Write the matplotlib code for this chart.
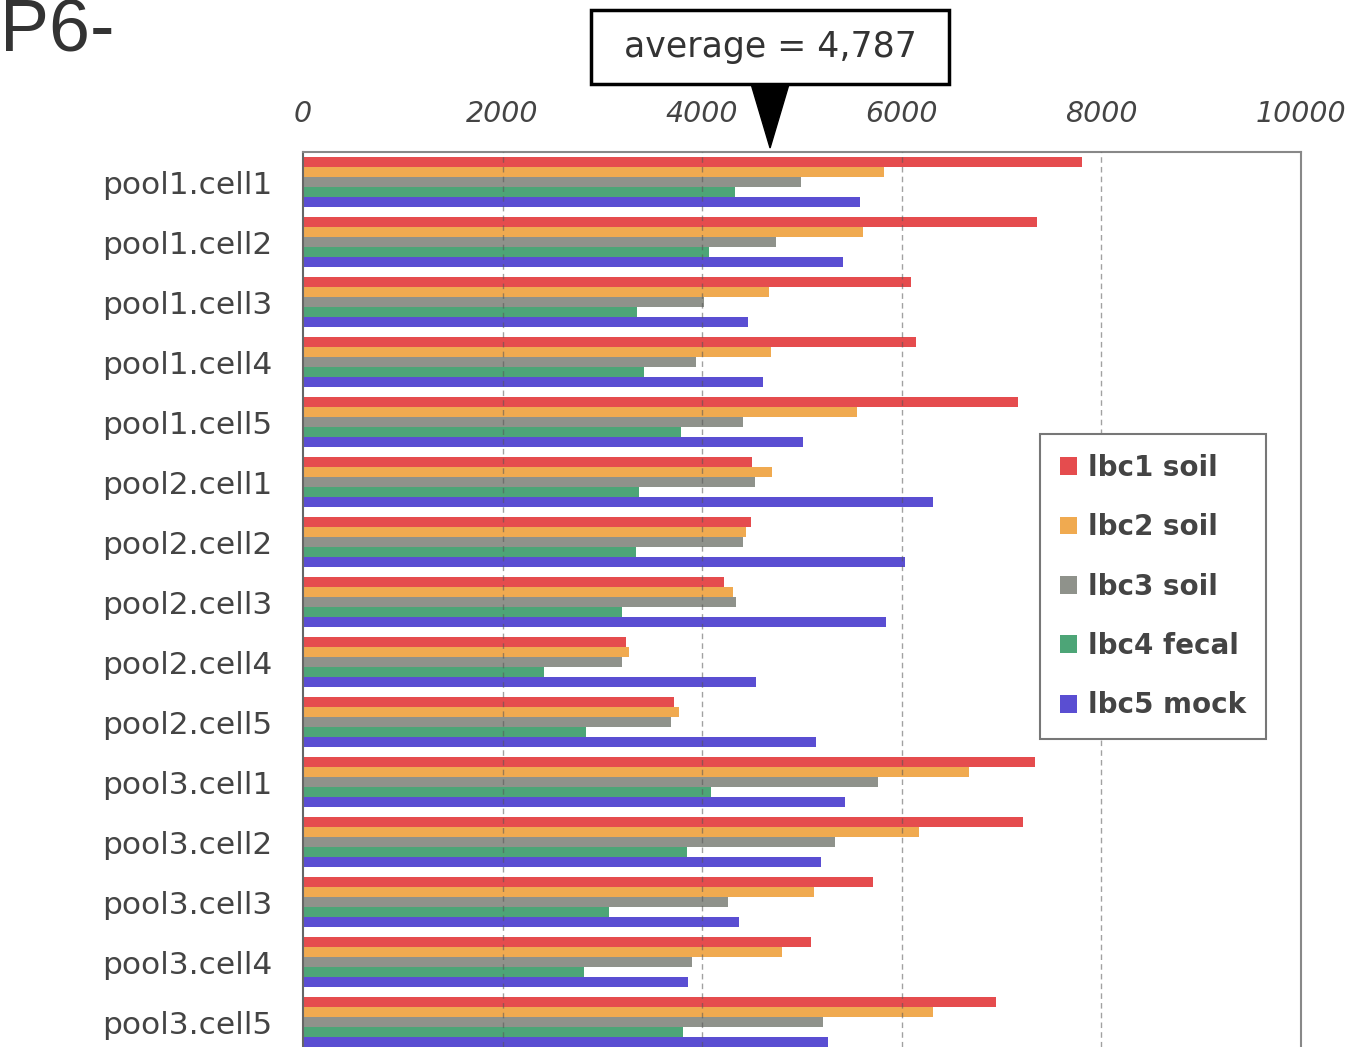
import numpy as np
import matplotlib
matplotlib.use('agg')
import matplotlib.pyplot as plt
from matplotlib.patches import Patch, Polygon, Rectangle

cells = ['pool1.cell1', 'pool1.cell2', 'pool1.cell3', 'pool1.cell4', 'pool1.cell5',
         'pool2.cell1', 'pool2.cell2', 'pool2.cell3', 'pool2.cell4', 'pool2.cell5',
         'pool3.cell1', 'pool3.cell2', 'pool3.cell3', 'pool3.cell4', 'pool3.cell5']
series = ['lbc1 soil', 'lbc2 soil', 'lbc3 soil', 'lbc4 fecal', 'lbc5 mock']
lbc1 = [7806, 7355, 6092, 6142, 7164, 4499, 4489, 4218, 3236, 3717, 7335, 7214, 5711, 5090, 6944]
lbc2 = [5822, 5611, 4669, 4689, 5551, 4699, 4439, 4309, 3267, 3768, 6673, 6172, 5120, 4800, 6313]
lbc3 = [4990, 4739, 4018, 3938, 4409, 4529, 4409, 4339, 3196, 3687, 5762, 5331, 4259, 3898, 5210]
lbc4 = [4329, 4068, 3347, 3417, 3788, 3367, 3337, 3196, 2415, 2836, 4088, 3848, 3066, 2816, 3808]
lbc5 = [5581, 5411, 4459, 4609, 5010, 6313, 6032, 5842, 4539, 5140, 5431, 5190, 4369, 3858, 5261]
xticks = [0, 2000, 4000, 6000, 8000, 10000]
average_label = 'average = 4,787'
pointer_x = 4680
colors = ['#E54C4E', '#F0AA50', '#8F928B', '#4DA577', '#5A4ED2']

fig = plt.figure(figsize=(13.67, 10.47), dpi=100)
ax = fig.add_axes([303/1367, 0, 998/1367, 1 - 152/1047])

y = np.arange(len(cells))
h = 1/6
for k, vals in enumerate([lbc1, lbc2, lbc3, lbc4, lbc5]):
    ax.barh(y + (k - 2) * h, vals, height=h, color=colors[k], zorder=2)

ax.set_xlim(0, 10000)
ax.set_ylim(14 + 25/60, -0.5)
ax.set_xticks(xticks)
ax.xaxis.tick_top()
ax.tick_params(axis='x', length=0, pad=17, labelsize=20.5, labelcolor='#444')
for t in ax.get_xticklabels():
    t.set_fontstyle('italic')
ax.set_yticks(y)
ax.set_yticklabels(cells)
ax.tick_params(axis='y', length=0, pad=22, labelsize=22.5, labelcolor='#444')

for gx in xticks[1:-1]:
    ax.axvline(gx, color='#555', alpha=0.55, lw=1, ls=(0, (4, 3)), zorder=3)

for s in ['left', 'top', 'right']:
    ax.spines[s].set_color('#888')
    ax.spines[s].set_linewidth(1.5)
ax.spines['left'].set_color('#666')
ax.spines['bottom'].set_visible(False)

handles = [Patch(facecolor=c, edgecolor='none', label=l) for c, l in zip(colors, series)]
leg = ax.legend(handles=handles, loc='upper left', bbox_to_anchor=(0.7385, 0.685),
                prop={'size': 20, 'weight': 'bold'}, labelcolor='#444',
                handlelength=0.6, handleheight=0.6, handletextpad=0.4,
                labelspacing=1.13, borderpad=0.72, borderaxespad=0, fancybox=False,
                edgecolor='#777', framealpha=1)
leg.get_frame().set_linewidth(1.5)

# pointer + box for the average
fig.canvas.draw()
W, H = fig.get_size_inches() * fig.dpi
tip = ax.transData.transform((pointer_x, -0.5))
tx, ty = tip[0] / W, (tip[1] + 4) / H
box_w, box_h = 358 / W, 74 / H
box_top = 1 - 10 / H
fig.add_artist(Polygon([(tx - 19 / W, box_top - box_h), (tx + 19 / W, box_top - box_h), (tx, ty)],
                       closed=True, facecolor='black', edgecolor='black', transform=fig.transFigure))
fig.add_artist(Rectangle((tx - box_w / 2, box_top - box_h), box_w, box_h, facecolor='white',
                         edgecolor='black', lw=2.5, transform=fig.transFigure))
fig.text(tx, box_top - box_h / 2, average_label, ha='center', va='center', fontsize=25, color='#333')

fig.text(0.0, 1 - 52 / 1047, 'P6-', ha='left', va='baseline', fontsize=53, color='#333',
         family='Liberation Sans')

fig.savefig('out.png', dpi=100)
